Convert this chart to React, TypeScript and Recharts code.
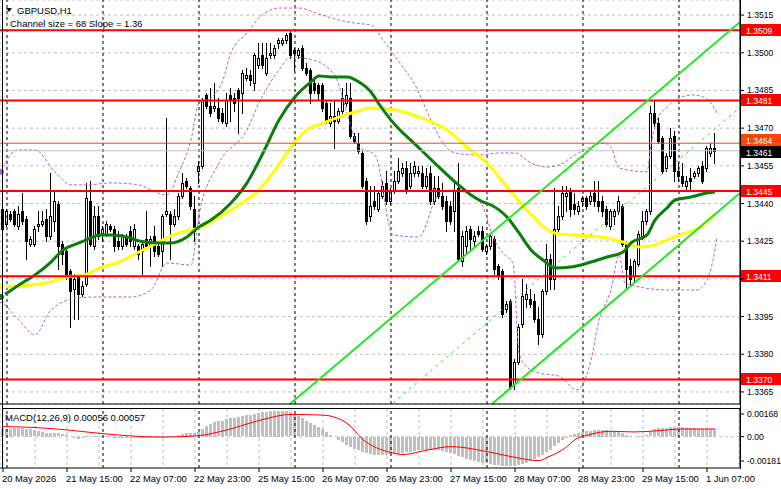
import React from 'react';
import { ComposedChart, Bar, Line, XAxis, YAxis, ReferenceLine, CartesianGrid } from 'recharts';

const FONT = '"Liberation Sans", Arial, sans-serif';

// bar index 0 = 20 May 23:00 (H1)
const X_DOMAIN: [number, number] = [-0.75, 184.25];
const PRICE_DOMAIN: [number, number] = [1.33602, 1.3521];
const MACD_DOMAIN: [number, number] = [-0.00233, 0.00213];

const opens = [
  1.3438, 1.3432, 1.3436, 1.3437, 1.3431, 1.3437, 1.3434, 1.3424, 1.3424, 1.3431,
  1.3432, 1.3434, 1.3427, 1.3433, 1.344, 1.3424, 1.3421, 1.3413, 1.3406, 1.3411,
  1.3404, 1.3408, 1.3441, 1.3423, 1.3435, 1.3428, 1.3428, 1.3431, 1.343, 1.3425,
  1.3423, 1.3427, 1.3429, 1.3423, 1.3423, 1.3421, 1.3426, 1.3423, 1.3427, 1.3423,
  1.3421, 1.3436, 1.3436, 1.3432, 1.3435, 1.3443, 1.3449, 1.3446, 1.3438, 1.3453,
  1.3455, 1.3483, 1.3479, 1.3478, 1.3478, 1.3476, 1.3472, 1.3483, 1.3482, 1.3485,
  1.3484, 1.349, 1.3491, 1.3488, 1.3495, 1.3499, 1.3492, 1.3499, 1.3499, 1.3504,
  1.3504, 1.3505, 1.3508, 1.3501, 1.3499, 1.3502, 1.3494, 1.3493, 1.3488, 1.3487,
  1.3487, 1.348, 1.3472, 1.3475, 1.3473, 1.3477, 1.348, 1.3482, 1.3467, 1.3464,
  1.346, 1.3449, 1.3435, 1.3441, 1.3438, 1.3443, 1.3448, 1.3441, 1.3445, 1.3449,
  1.3452, 1.3454, 1.3447, 1.3452, 1.3452, 1.3452, 1.3447, 1.3452, 1.3441, 1.3446,
  1.3443, 1.3441, 1.3439, 1.3437, 1.3446, 1.3417, 1.3423, 1.343, 1.3425, 1.3429,
  1.3429, 1.3421, 1.3423, 1.3426, 1.3415, 1.3413, 1.3398, 1.3401, 1.3368, 1.3377,
  1.3392, 1.3402, 1.3402, 1.3401, 1.3394, 1.3388, 1.3405, 1.3418, 1.341, 1.343,
  1.3435, 1.3443, 1.3445, 1.344, 1.3437, 1.3441, 1.3442, 1.3441, 1.3444, 1.3441,
  1.3441, 1.3438, 1.3431, 1.3435, 1.3437, 1.3439, 1.3424, 1.3415, 1.3411, 1.3416,
  1.3427, 1.3433, 1.3437, 1.3476, 1.3472, 1.3466, 1.3454, 1.3459, 1.3467, 1.3453,
  1.3451, 1.3447, 1.345, 1.3451, 1.3452, 1.3455, 1.3454, 1.346, 1.3462,
];
const highs = [
  1.3439, 1.3438, 1.3437, 1.3438, 1.3439, 1.3444, 1.3435, 1.3427, 1.3431, 1.3437,
  1.3437, 1.3438, 1.3452, 1.3445, 1.3441, 1.3425, 1.3422, 1.3414, 1.3412, 1.3412,
  1.3409, 1.3448, 1.3449, 1.3439, 1.3439, 1.3431, 1.3433, 1.3432, 1.3431, 1.3429,
  1.3428, 1.3428, 1.3431, 1.3432, 1.3424, 1.3425, 1.3437, 1.3427, 1.3431, 1.3424,
  1.3436, 1.3474, 1.3437, 1.3438, 1.3444, 1.3452, 1.345, 1.3447, 1.3443, 1.3457,
  1.3482, 1.3484, 1.3486, 1.3488, 1.3482, 1.3478, 1.3484, 1.3486, 1.3484, 1.3486,
  1.3493, 1.3494, 1.3493, 1.35, 1.3504, 1.3504, 1.3504, 1.3504, 1.3503, 1.3506,
  1.3506, 1.3508, 1.3509, 1.3502, 1.3502, 1.3503, 1.3496, 1.3494, 1.3489, 1.3488,
  1.3488, 1.3481, 1.348, 1.3481, 1.3478, 1.3486, 1.3488, 1.3488, 1.3468, 1.3468,
  1.3461, 1.345, 1.3447, 1.3447, 1.3445, 1.3449, 1.3453, 1.3446, 1.3453, 1.3458,
  1.3456, 1.3457, 1.3456, 1.3457, 1.3455, 1.3455, 1.3454, 1.3455, 1.3451, 1.3451,
  1.3448, 1.3443, 1.3441, 1.3449, 1.3456, 1.3429, 1.3431, 1.3431, 1.3429, 1.3431,
  1.3431, 1.3424, 1.3428, 1.3427, 1.3416, 1.3414, 1.3401, 1.3402, 1.3378, 1.3392,
  1.341, 1.3408, 1.3406, 1.3404, 1.3399, 1.3406, 1.3424, 1.342, 1.3446, 1.3439,
  1.3447, 1.3447, 1.3446, 1.3444, 1.3441, 1.3443, 1.3443, 1.3445, 1.3449, 1.3449,
  1.3443, 1.3439, 1.3438, 1.3438, 1.3443, 1.344, 1.3425, 1.3418, 1.3418, 1.3429,
  1.3437, 1.3438, 1.3479, 1.3481, 1.3474, 1.3467, 1.346, 1.347, 1.3469, 1.3456,
  1.3456, 1.3451, 1.3454, 1.3453, 1.3455, 1.3457, 1.3463, 1.3464, 1.3468,
];
const lows = [
  1.3429, 1.3431, 1.3433, 1.3431, 1.343, 1.3432, 1.3418, 1.3423, 1.3423, 1.3429,
  1.3431, 1.3425, 1.3426, 1.3429, 1.3414, 1.3416, 1.341, 1.3391, 1.3394, 1.3394,
  1.3403, 1.3407, 1.3423, 1.3422, 1.3426, 1.3425, 1.3427, 1.3429, 1.3421, 1.3422,
  1.3422, 1.3423, 1.3423, 1.3422, 1.3418, 1.3412, 1.3422, 1.3415, 1.3419, 1.3419,
  1.3415, 1.3435, 1.3418, 1.3431, 1.3434, 1.3442, 1.3446, 1.3438, 1.3425, 1.3448,
  1.3454, 1.3478, 1.3475, 1.3477, 1.3473, 1.3472, 1.3471, 1.3473, 1.3477, 1.3468,
  1.3476, 1.3489, 1.3487, 1.3485, 1.3494, 1.3494, 1.3491, 1.3498, 1.3498, 1.3502,
  1.3503, 1.3504, 1.3498, 1.3493, 1.3498, 1.3493, 1.3491, 1.348, 1.3484, 1.3481,
  1.3477, 1.3472, 1.3471, 1.3462, 1.3472, 1.3476, 1.3479, 1.3466, 1.3464, 1.346,
  1.3446, 1.3432, 1.3433, 1.3438, 1.3437, 1.3442, 1.344, 1.344, 1.3444, 1.3448,
  1.3451, 1.3444, 1.3446, 1.3451, 1.3451, 1.3446, 1.3446, 1.344, 1.344, 1.3442,
  1.3438, 1.3429, 1.3432, 1.3429, 1.3417, 1.3415, 1.342, 1.3421, 1.3423, 1.3427,
  1.3421, 1.342, 1.3422, 1.3412, 1.341, 1.3395, 1.3397, 1.3366, 1.3366, 1.3376,
  1.3391, 1.3399, 1.3399, 1.3393, 1.3384, 1.3387, 1.3404, 1.3406, 1.3406, 1.3429,
  1.3434, 1.3437, 1.3435, 1.3436, 1.3436, 1.3439, 1.3438, 1.344, 1.3439, 1.3437,
  1.3435, 1.3431, 1.343, 1.3432, 1.3436, 1.3423, 1.3406, 1.3408, 1.3409, 1.3415,
  1.3426, 1.3432, 1.3436, 1.3471, 1.3464, 1.3452, 1.3453, 1.3458, 1.3449, 1.3449,
  1.3447, 1.3445, 1.3445, 1.345, 1.3451, 1.3448, 1.3453, 1.3459, 1.3456,
];
const closes = [
  1.343, 1.3437, 1.3434, 1.3432, 1.3436, 1.3433, 1.3425, 1.3426, 1.343, 1.3432,
  1.3433, 1.3427, 1.3435, 1.3441, 1.3423, 1.342, 1.3412, 1.3405, 1.341, 1.3404,
  1.3407, 1.3442, 1.3424, 1.3435, 1.3427, 1.343, 1.3432, 1.343, 1.3423, 1.3423,
  1.3427, 1.3424, 1.3425, 1.343, 1.342, 1.3424, 1.3423, 1.3426, 1.3421, 1.342,
  1.3435, 1.3437, 1.3432, 1.3435, 1.3443, 1.3448, 1.3447, 1.3439, 1.3429, 1.3455,
  1.3481, 1.3479, 1.3476, 1.3479, 1.3474, 1.3473, 1.3481, 1.3481, 1.348, 1.3482,
  1.3492, 1.3491, 1.3489, 1.3499, 1.3498, 1.3495, 1.3498, 1.35, 1.3502, 1.3505,
  1.3505, 1.3507, 1.3499, 1.35, 1.3501, 1.3494, 1.3492, 1.3484, 1.3485, 1.3484,
  1.3478, 1.3473, 1.3475, 1.3473, 1.3477, 1.3482, 1.3483, 1.3467, 1.3465, 1.3461,
  1.3447, 1.3433, 1.3439, 1.3439, 1.3444, 1.3447, 1.3441, 1.3445, 1.3449, 1.3453,
  1.3454, 1.3445, 1.3452, 1.3455, 1.3453, 1.3447, 1.3451, 1.3441, 1.3446, 1.3443,
  1.3439, 1.3433, 1.3433, 1.3445, 1.3418, 1.3427, 1.3429, 1.3426, 1.3427, 1.3428,
  1.3422, 1.3423, 1.3427, 1.3414, 1.3411, 1.3396, 1.34, 1.3367, 1.3377, 1.3391,
  1.3403, 1.3404, 1.34, 1.3394, 1.3388, 1.3405, 1.3418, 1.341, 1.343, 1.3435,
  1.3444, 1.3444, 1.3438, 1.3438, 1.3439, 1.3442, 1.3439, 1.3443, 1.3441, 1.3439,
  1.3437, 1.3432, 1.3437, 1.3437, 1.3441, 1.3424, 1.3414, 1.341, 1.3417, 1.3428,
  1.3433, 1.3437, 1.3476, 1.3472, 1.3465, 1.3453, 1.3459, 1.3466, 1.3453, 1.3451,
  1.3448, 1.3449, 1.3449, 1.3452, 1.3454, 1.3449, 1.3462, 1.3462, 1.3461,
];

// moving averages at sample bars
const fastMaIdx = [-0.5, 4, 8, 12, 15, 19, 22, 24, 27, 32, 34, 39, 42, 46, 49, 52, 57, 61, 65, 69, 73, 77, 79, 82, 86, 89, 92, 94, 97, 104, 109, 113, 117, 120, 122, 126, 129, 132, 135, 138, 142, 147, 151, 155, 157, 161, 163, 166, 168, 172, 176, 178];
const fastMa = [1.34028, 1.34076, 1.34116, 1.34167, 1.34215, 1.34243, 1.34263, 1.34275, 1.34275, 1.34263, 1.34251, 1.34243, 1.34243, 1.34267, 1.34307, 1.34334, 1.34402, 1.34482, 1.34601, 1.34732, 1.34824, 1.34884, 1.34908, 1.34904, 1.34904, 1.34884, 1.34844, 1.34796, 1.34732, 1.34621, 1.34545, 1.34486, 1.34434, 1.34406, 1.34394, 1.34346, 1.34283, 1.34215, 1.34175, 1.34143, 1.34147, 1.34167, 1.34187, 1.34207, 1.34243, 1.34275, 1.34334, 1.34382, 1.34414, 1.34426, 1.34442, 1.34446];
const slowMaIdx = [-0.5, 4, 9, 12, 16, 21, 24, 29, 34, 39, 42, 44, 49, 54, 59, 64, 68, 72, 76, 80, 84, 88, 92, 98, 106, 111, 116, 121, 126, 131, 137, 139, 143, 147, 151, 155, 159, 162, 166, 170, 174, 178];
const slowMa = [1.34068, 1.34072, 1.3408, 1.34088, 1.34108, 1.34119, 1.34143, 1.34167, 1.34207, 1.34247, 1.34271, 1.34283, 1.34303, 1.34346, 1.34394, 1.34454, 1.34533, 1.34625, 1.34693, 1.3472, 1.34744, 1.34764, 1.3478, 1.34772, 1.34732, 1.34693, 1.34625, 1.34561, 1.34466, 1.34374, 1.34287, 1.34279, 1.34275, 1.34271, 1.34263, 1.34247, 1.34227, 1.34231, 1.34255, 1.34279, 1.34303, 1.34358];

// envelope bands (dotted violet)
const upperIdx = [-0.5, 3.5, 8, 13, 17, 21, 27, 34, 38, 41, 44, 47, 49, 52, 55, 57, 61, 64, 69, 74, 79, 84, 88, 92, 95, 99, 103, 107, 110, 113, 119, 124, 128, 132, 136, 139, 143, 147, 150, 152, 154, 161, 162, 163.5, 166, 169, 172.5, 175, 177, 178.5];
const upperBand = [1.34526, 1.34613, 1.34613, 1.34526, 1.34474, 1.34474, 1.34482, 1.34474, 1.34446, 1.34434, 1.34526, 1.34653, 1.348, 1.3482, 1.34892, 1.35, 1.35079, 1.35138, 1.35178, 1.35178, 1.35154, 1.3513, 1.35118, 1.3511, 1.35051, 1.34963, 1.34872, 1.34732, 1.34641, 1.34601, 1.34593, 1.34601, 1.34601, 1.34561, 1.34545, 1.34553, 1.34593, 1.34625, 1.34641, 1.34625, 1.34541, 1.34526, 1.34633, 1.34732, 1.34784, 1.3482, 1.34832, 1.34824, 1.348, 1.3476];
const lowerIdx = [-0.5, 4, 8, 12, 18.5, 24, 32, 37, 41, 47, 49, 54, 61, 64, 69, 72, 77.5, 81, 83.5, 86, 89, 93, 97.5, 104, 108.5, 112, 117, 120, 122.5, 125, 127.5, 129, 131, 134, 139, 143.5, 147, 149, 152, 154, 155.5, 159, 166, 173.5, 176, 177.5, 178.5];
const lowerBand = [1.34016, 1.33936, 1.33877, 1.33976, 1.34024, 1.34028, 1.34028, 1.34056, 1.34163, 1.34155, 1.34354, 1.34561, 1.34693, 1.348, 1.34931, 1.34983, 1.34971, 1.34943, 1.34892, 1.3476, 1.34625, 1.34593, 1.34275, 1.34267, 1.34426, 1.34454, 1.34434, 1.34386, 1.34267, 1.34203, 1.34163, 1.33805, 1.33749, 1.33725, 1.33713, 1.33658, 1.33777, 1.33936, 1.34056, 1.34195, 1.34084, 1.34068, 1.34056, 1.34056, 1.34096, 1.34175, 1.34267];

// regression channel (bar index, price)
const channelUpper = [[71.75, 1.33602], [184.25, 1.35122]];
const channelLower = [[122.25, 1.33602], [184.25, 1.34442]];
const channelMid = [[97.5, 1.33606], [184.25, 1.34782]];

const levels = [1.3509, 1.3481, 1.3445, 1.3411, 1.337];
const askLevel = 1.3464;
const bidLevel = 1.3461;

// MACD histogram, units of 0.00001
const macdHist = [
  55, 58, 60, 62, 63, 62, 60, 55, 48, 40, 35, 30, 28, 28, 25,
  18, 10, 0, -8, -12, -5, 5, 8, 6, 5, 4, 2, 0, -2, -3,
  -4, -5, -6, -6, -7, -8, -8, -9, -10, -10, -6, 2, 4, 6, 12, 20, 25, 28, 26, 35,
  60, 80, 95, 108, 115, 120, 128, 135, 140, 145, 152, 158, 162, 168, 175, 180, 185, 188, 190, 190,
  192, 188, 180, 165, 150, 135, 120, 105, 90, 75, 55, 35, 15,
  0, -20, -40, -60, -75, -90, -100, -110, -120, -128, -133, -135,
  -135, -133, -130, -128, -125, -120, -115, -110, -105, -100, -98, -95, -95, -98, -100, -105, -110, -118, -130, -140,
  -150, -160, -170, -178, -185, -190, -195, -200, -205, -210, -212, -215, -215, -212, -208,
  -200, -190, -178, -165, -150, -135, -115, -95, -70, -45,
  -25, -5, 10, 20, 28, 35, 40, 45, 48, 50, 50, 48, 45, 42, 40,
  30, 15, 5, 0, 2, 5, 10,
  40, 55, 62, 65, 68, 70, 72, 72, 70, 68, 65, 62, 60, 58, 57, 56, 56,
];
const macdSigIdx = [0, 8, 16, 24, 32, 40, 48, 56, 64, 72, 80, 86, 90, 97, 100, 106, 112, 121, 127, 134, 136, 141, 143, 146, 152, 158, 164, 170, 178];
const macdSig = [75, 68, 50, 25, 5, -3, 5, 50, 120, 165, 160, 100, -22, -118, -133, -100, -74, -111, -148, -178, -155, -74, -22, 10, 40, 35, 45, 57, 57];

const priceTicks = [1.3515, 1.35, 1.3485, 1.347, 1.3455, 1.344, 1.3425, 1.341, 1.3395, 1.338, 1.3365];
const macdTicks = [0.00168, 0, -0.00181];
const macdTickLabels = ['0.00168', '0.00', '-0.00181'];
const gridIdx = [0, 8, 16, 24, 32, 40, 48, 56, 64, 72, 80, 88, 96, 104, 112, 120, 128, 136, 144, 152, 160, 168, 176, 184];
const daySepIdx = [1, 25, 49, 73, 97, 121, 145, 169];
const timeTickIdx = [0, 16, 32, 48, 64, 80, 96, 112, 128, 144, 160, 176];
const timeTickLabels = ['20 May 2026', '21 May 15:00', '22 May 07:00', '22 May 23:00', '25 May 15:00', '26 May 07:00', '26 May 23:00', '27 May 15:00', '28 May 07:00', '28 May 23:00', '29 May 15:00', '1 Jun 07:00'];

const candles = opens.map((o, i) => ({ i, o, h: highs[i], l: lows[i], c: closes[i] }));
const toPoints = (idx: number[], vals: number[]) => idx.map((i, k) => ({ i, v: vals[k] }));
const sigByIdx: Record<number, number> = {};
macdSigIdx.forEach((i, k) => (sigByIdx[i] = macdSig[k] / 100000));
const macdData = macdHist.map((h, i) => ({ i, hist: h / 100000, sig: sigByIdx[i] }));

const Candle = (props: any) => {
  const { x, y, width, height, payload } = props;
  if (!payload || !Number.isFinite(y)) return null;
  const { o, h, l, c } = payload;
  const top = Math.min(y, y + height);
  const span = Math.abs(height);
  const toY = (v: number) => top + ((h - v) / (h - l || 1)) * span;
  const px = Math.floor(x + width / 2);
  const y1 = Math.round(toY(Math.max(o, c)));
  const y2 = Math.round(toY(Math.min(o, c)));
  return (
    <g>
      <line x1={px + 0.5} x2={px + 0.5} y1={Math.round(top)} y2={Math.round(top + span) + 1} stroke="#000" />
      {y2 - y1 >= 1 ? (
        <rect x={px - 0.5} y={y1 + 0.5} width={2} height={y2 - y1} fill={c >= o ? '#fff' : '#000'} stroke="#000" />
      ) : (
        <line x1={px - 1} x2={px + 2} y1={y1 + 0.5} y2={y1 + 0.5} stroke="#000" />
      )}
    </g>
  );
};

const HistBar = (props: any) => {
  const { x, y, width, height } = props;
  if (!Number.isFinite(y) || !height) return null;
  const px = Math.floor(x + width / 2);
  const top = Math.round(Math.min(y, y + height));
  const h = Math.max(1, Math.round(Math.abs(height)));
  return <rect x={px - 1} y={top} width={3} height={h} fill="#c0c0c0" />;
};

// a price tick sitting under a level tag is hidden, as on the terminal
const PriceTick = (props: any) => {
  const { x, y, payload } = props;
  const v = Number(payload.value);
  if (levels.some((p) => Math.abs(p - v) < 0.0003)) return null;
  return (
    <text x={x + 1} y={y + 3} fontSize={8.6} fontFamily={FONT} fill="#000" textAnchor="start">
      {v.toFixed(4)}
    </text>
  );
};

const MacdTick = (props: any) => {
  const { x, y, payload } = props;
  const k = macdTicks.indexOf(payload.value);
  return (
    <text x={x + 1} y={y + 3} fontSize={8.6} fontFamily={FONT} fill="#000" textAnchor="start">
      {macdTickLabels[k]}
    </text>
  );
};

const TimeTick = (props: any) => {
  const { x, y, payload } = props;
  const k = timeTickIdx.indexOf(payload.value);
  return (
    <text x={x - 1} y={y + 8} fontSize={9.4} fontFamily={FONT} fill="#000" textAnchor="start">
      {timeTickLabels[k]}
    </text>
  );
};

const priceTag = (text: string, bg: string, shift = 0) => (props: any) => {
  const vb = props.viewBox;
  if (!vb) return null;
  const left = vb.x + vb.width + 1;
  const cy = Math.round(vb.y) + shift;
  return (
    <g>
      <rect x={left} y={cy - 6} width={41} height={12} fill={bg} />
      <text x={left + 5} y={cy + 3.5} fontSize={8.6} fontFamily={FONT} fill="#fff">{text}</text>
    </g>
  );
};

const seg = (pts: number[][]) => pts.map(([x, y]) => ({ x, y }));

export default function App() {
  return (
    <div style={{ position: 'absolute', left: 0, top: 0, width: 781, height: 489, background: '#fff', overflow: 'hidden' }}>
      <div style={{ position: 'absolute', left: 0, top: 0 }}>
        <ComposedChart width={781} height={405} data={candles} margin={{ top: 0, right: 0, bottom: 0, left: 0 }}>
          <CartesianGrid stroke="#c0c0c0" strokeDasharray="3 3" />
          <XAxis dataKey="i" type="number" domain={X_DOMAIN} allowDataOverflow ticks={gridIdx} interval={0} height={1} tick={false} tickLine={false} axisLine={{ stroke: '#000' }} />
          <YAxis orientation="right" width={41} domain={PRICE_DOMAIN} allowDataOverflow ticks={priceTicks} interval={0} tick={PriceTick} tickSize={4} tickLine={{ stroke: '#000' }} axisLine={{ stroke: '#000' }} />
          {daySepIdx.map((d) => (
            <ReferenceLine key={'d' + d} x={d} stroke="#000" strokeDasharray="3 3" />
          ))}
          <Bar dataKey={(d: any) => [d.l, d.h]} shape={Candle} barSize={3} isAnimationActive={false} />
          <Line data={toPoints(upperIdx, upperBand)} dataKey="v" type="monotone" stroke="#b45fe0" strokeDasharray="3 2" dot={false} isAnimationActive={false} />
          <Line data={toPoints(lowerIdx, lowerBand)} dataKey="v" type="monotone" stroke="#b45fe0" strokeDasharray="3 2" dot={false} isAnimationActive={false} />
          <Line data={toPoints(slowMaIdx, slowMa)} dataKey="v" type="monotone" stroke="#ffff00" strokeWidth={3} dot={false} isAnimationActive={false} />
          <Line data={toPoints(fastMaIdx, fastMa)} dataKey="v" type="monotone" stroke="#0a7d0a" strokeWidth={3} dot={false} isAnimationActive={false} />
          <ReferenceLine y={askLevel} stroke="#ff4500" label={priceTag(askLevel.toFixed(4), '#ff4500', -3)} />
          <ReferenceLine y={bidLevel} stroke="#c0c0c0" label={priceTag(bidLevel.toFixed(4), '#000', 1)} />
          {levels.map((p) => (
            <ReferenceLine key={'l' + p} y={p} stroke="#ff0000" strokeWidth={2} label={priceTag(p.toFixed(4), '#ff0000')} />
          ))}
          <ReferenceLine segment={seg(channelUpper)} stroke="#22e822" strokeWidth={2} ifOverflow="visible" />
          <ReferenceLine segment={seg(channelLower)} stroke="#22e822" strokeWidth={2} ifOverflow="visible" />
          <ReferenceLine segment={seg(channelMid)} stroke="#22e822" strokeDasharray="3 4" ifOverflow="visible" />
        </ComposedChart>
      </div>
      <div style={{ position: 'absolute', left: 0, top: 408 }}>
        <ComposedChart width={781} height={81} data={macdData} margin={{ top: 0, right: 0, bottom: 0, left: 0 }}>
          <XAxis xAxisId="g" dataKey="i" type="number" domain={X_DOMAIN} allowDataOverflow ticks={gridIdx} interval={0} hide />
          <CartesianGrid xAxisId="g" horizontal={false} stroke="#c0c0c0" strokeDasharray="3 3" />
          <XAxis dataKey="i" type="number" domain={X_DOMAIN} allowDataOverflow ticks={timeTickIdx} interval={0} height={21} tick={TimeTick} tickSize={4} tickLine={{ stroke: '#000' }} axisLine={{ stroke: '#000' }} />
          <YAxis orientation="right" width={41} domain={MACD_DOMAIN} allowDataOverflow ticks={macdTicks} interval={0} tick={MacdTick} tickSize={4} tickLine={{ stroke: '#000' }} axisLine={{ stroke: '#000' }} />
          <ReferenceLine y={0} stroke="#c0c0c0" strokeDasharray="3 3" />
          {daySepIdx.map((d) => (
            <ReferenceLine key={'m' + d} x={d} stroke="#000" strokeDasharray="3 3" />
          ))}
          <Bar dataKey="hist" shape={HistBar} barSize={3} isAnimationActive={false} />
          <Line dataKey="sig" type="monotone" stroke="#ff0000" dot={false} connectNulls isAnimationActive={false} />
        </ComposedChart>
      </div>
      <svg width={781} height={489} style={{ position: 'absolute', left: 0, top: 0, pointerEvents: 'none' }}>
        <line x1={2.5} x2={2.5} y1={0} y2={468} stroke="#000" />
        <line x1={2} x2={741} y1={408.5} y2={408.5} stroke="#000" />
        <line x1={740.5} x2={740.5} y1={0} y2={469} stroke="#000" />
        <polygon points="6,8 12,8 9,12" fill="#000" />
        <text x={17} y={14} fontSize={9.5} fontFamily={FONT} fill="#000">GBPUSD,H1</text>
        <text x={10} y={26.5} fontSize={9.5} fontFamily={FONT} fill="#000">Channel size = 68 Slope = 1.36</text>
        <text x={5} y={421} fontSize={9.5} fontFamily={FONT} fill="#000">MACD(12,26,9) 0.00056 0.00057</text>
      </svg>
    </div>
  );
}
